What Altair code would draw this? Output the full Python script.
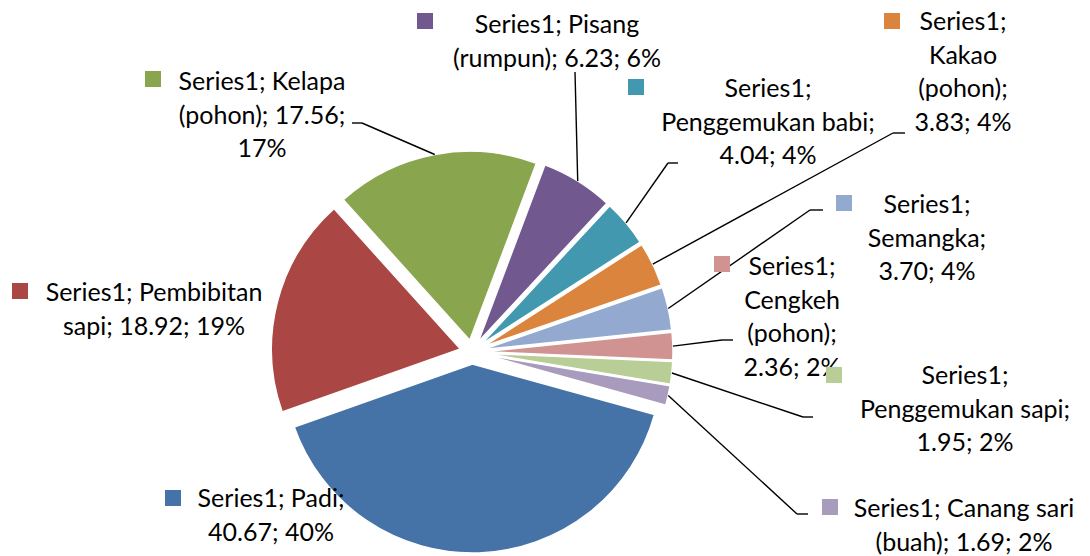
import math
import altair as alt
import pandas as pd

# ---------------- data ----------------
series_name = "Series1"
categories = ["Padi", "Pembibitan sapi", "Kelapa (pohon)", "Pisang (rumpun)",
              "Penggemukan babi", "Kakao (pohon)", "Semangka", "Cengkeh (pohon)",
              "Penggemukan sapi", "Canang sari (buah)"]
values = [40.67, 18.92, 17.56, 6.23, 4.04, 3.83, 3.70, 2.36, 1.95, 1.69]
colors = ["#4572A7", "#AA4643", "#89A54E", "#71588F", "#4198AF",
          "#DB843D", "#93A9CF", "#D19392", "#B9CD96", "#A99BBD"]

# words per label line (how Excel wrapped each data label)
words_per_line = [[2, 2], [2, 3], [2, 2, 1], [2, 3], [1, 2, 2],
                  [1, 1, 1, 2], [1, 1, 2], [1, 1, 1, 2], [1, 2, 2], [3, 3]]

# ---------------- layout ----------------
W, H = 1090, 556
CX, CY = 472, 352          # pie centre
R = 189                    # pie radius
EXPLODE = 12               # slice explosion
START_DEG = 105.5          # angle of first slice
A0 = math.radians(START_DEG)

label_x = [271, 154, 262, 557, 768, 963, 927, 792, 965, 964]
label_y = [507, 301, 90, 33, 97, 30, 213, 275, 384, 517]
square_x = [173, 20, 153, 425, 636, 892, 844, 722, 834, 830]
square_y = [498, 291, 79, 21, 87, 21, 203, 264, 375, 507]
elbow_x = [None, None, 362, 575, 668, 893, 810, 722, 803, 797]
elbow_y = [None, None, 123, 72, 163, 133, 210, 340, 417, 514]
end_x = [None, None, 352, 575, 678, 905, 823, 733, 813, 808]
end_y = [None, None, 123, 72, 163, 133, 210, 340, 417, 514]

total = sum(values)
labels = []
for cat, v, wpl in zip(categories, values, words_per_line):
    pct = round(v / total * 100)
    words = f"{series_name}; {cat}; {v:.2f}; {pct}%".split(" ")
    lines, i = [], 0
    for n in wpl:
        lines.append(" ".join(words[i:i + n]))
        i += n
    labels.append("\n".join(lines))

df = pd.DataFrame({
    "idx": list(range(len(values))),
    "category": categories,
    "value": values,
    "label": labels,
    "lx": label_x, "ly": label_y,
    "sx": square_x, "sy": square_y,
    "ex": elbow_x, "ey": elbow_y,
    "tx": end_x, "ty": end_y,
    "has_leader": [x is not None for x in end_x],
})

xs = alt.Scale(domain=[0, W], range=[0, W])
ys = alt.Scale(domain=[0, H], range=[0, H])
color = alt.Color("category:N", scale=alt.Scale(domain=categories, range=colors), legend=None)

base = (
    alt.Chart(df)
    .transform_joinaggregate(total="sum(value)")
    .transform_window(cum="sum(value)", sort=[alt.SortField("idx")], frame=[None, 0])
    .transform_calculate(f0="(datum.cum - datum.value) / datum.total")
    .transform_calculate(f1="datum.cum / datum.total")
    .transform_calculate(mid=f"{A0} + PI * (datum.f0 + datum.f1)")
    .transform_calculate(cx=f"{CX} + {EXPLODE} * sin(datum.mid)")
    .transform_calculate(cy=f"{CY} - {EXPLODE} * cos(datum.mid)")
    .transform_calculate(px=f"datum.cx + {R} * sin(datum.mid)")
    .transform_calculate(py=f"datum.cy - {R} * cos(datum.mid)")
)

pie = base.mark_arc(radius=R, stroke="white", strokeWidth=1.5).encode(
    x=alt.X("cx:Q", scale=xs, axis=None),
    y=alt.Y("cy:Q", scale=ys, axis=None),
    theta=alt.Theta("f0:Q", scale=alt.Scale(domain=[0, 1], range=[A0, A0 + 2 * math.pi])),
    theta2="f1:Q",
    color=color,
)

leader1 = base.transform_filter("datum.has_leader").mark_rule(color="black", strokeWidth=1.4).encode(
    x=alt.X("px:Q", scale=xs, axis=None), y=alt.Y("py:Q", scale=ys, axis=None),
    x2="ex:Q", y2="ey:Q",
)
leader2 = base.transform_filter("datum.has_leader").mark_rule(color="black", strokeWidth=1.4).encode(
    x=alt.X("ex:Q", scale=xs, axis=None), y=alt.Y("ey:Q", scale=ys, axis=None),
    x2="tx:Q", y2="ty:Q",
)

text = base.mark_text(align="center", baseline="alphabetic", font="Lato", fontSize=25,
                      lineHeight=33.5, lineBreak="\n", color="black").encode(
    x=alt.X("lx:Q", scale=xs, axis=None), y=alt.Y("ly:Q", scale=ys, axis=None),
    text="label:N",
)

squares = base.mark_square(size=256, opacity=1, filled=True).encode(
    x=alt.X("sx:Q", scale=xs, axis=None), y=alt.Y("sy:Q", scale=ys, axis=None),
    color=color,
)

chart = alt.layer(pie, leader1, leader2, text, squares).properties(
    width=W, height=H, padding=0, autosize="none", background="white"
).configure_view(stroke=None)

chart.save("out.html", embed_options={"renderer": "svg", "actions": False})
